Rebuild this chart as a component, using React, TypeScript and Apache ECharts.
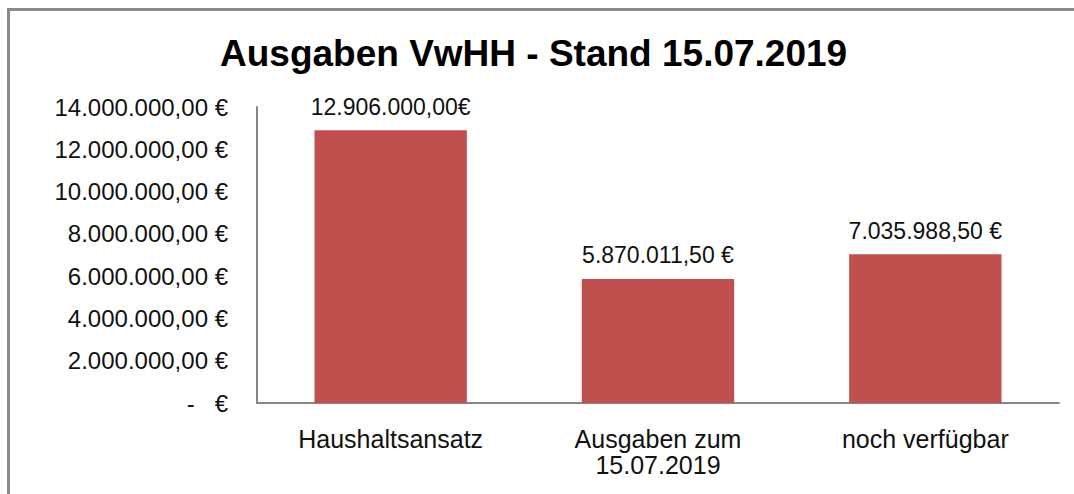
import React, { useEffect, useRef } from "react";
import * as echarts from "echarts";

const titleText = "Ausgaben VwHH - Stand 15.07.2019";
const categories = ["Haushaltsansatz", "Ausgaben zum\n15.07.2019", "noch verfügbar"];
const values = [12906000, 5870011.5, 7035988.5];
const labelSuffixes = ["€", " €", " €"];
const yMin = 0;
const yMax = 14000000;
const yInterval = 2000000;
const zeroLabel = "-   €";

function fmtDE(v: number): string {
  const fixed = v.toFixed(2);
  const [i, d] = fixed.split(".");
  const withDots = i.replace(/\B(?=(\d{3})+(?!\d))/g, ".");
  return withDots + "," + d;
}

export default function App() {
  const ref = useRef<HTMLDivElement>(null);
  useEffect(() => {
    if (!ref.current) return;
    const chart = echarts.init(ref.current, undefined, { renderer: "svg" });
    const font = "'Liberation Sans', Arial, sans-serif";
    chart.setOption({
      animation: false,
      backgroundColor: "#ffffff",
      title: {
        text: titleText,
        left: 215,
        top: 30,
        textStyle: { fontFamily: font, fontSize: 37, fontWeight: "bold", color: "#000000" },
      },
      grid: { left: 257, right: 15, top: 107, bottom: 91, outerBoundsMode: "none", containLabel: false },
      xAxis: {
        type: "category",
        data: categories,
        axisLine: { show: true, lineStyle: { color: "#868686", width: 2 } },
        axisTick: { show: false },
        axisLabel: {
          fontFamily: font,
          fontSize: 25,
          lineHeight: 26,
          color: "#111111",
          margin: 23,
          interval: 0,
        },
      },
      yAxis: {
        type: "value",
        min: yMin,
        max: yMax,
        interval: yInterval,
        splitLine: { show: false },
        axisLine: { show: true, lineStyle: { color: "#868686", width: 2 } },
        axisTick: { show: false },
        axisLabel: {
          fontFamily: font,
          fontSize: 24,
          color: "#111111",
          margin: 29,
          padding: [4, 0, 0, 0],
          formatter: (v: number) => (v === 0 ? zeroLabel : fmtDE(v) + " €"),
        },
      },
      series: [
        {
          type: "bar",
          data: values,
          barWidth: "57%",
          itemStyle: { color: "#C0504D" },
          label: {
            show: true,
            position: "top",
            distance: 12,
            fontFamily: font,
            fontSize: 23,
            color: "#111111",
            formatter: (p: any) => fmtDE(p.value) + labelSuffixes[p.dataIndex],
          },
        },
      ],
    });
    return () => chart.dispose();
  }, []);

  return (
    <div style={{ position: "fixed", left: 0, top: 0, width: 1074, height: 494, background: "#fff" }}>
      <div ref={ref} style={{ position: "absolute", left: 0, top: 0, width: 1074, height: 494 }} />
      <div
        style={{
          position: "absolute",
          left: 7,
          top: 8,
          right: 0,
          bottom: 0,
          borderTop: "3px solid #8a8a8a",
          borderLeft: "3px solid #8a8a8a",
          pointerEvents: "none",
        }}
      />
    </div>
  );
}
